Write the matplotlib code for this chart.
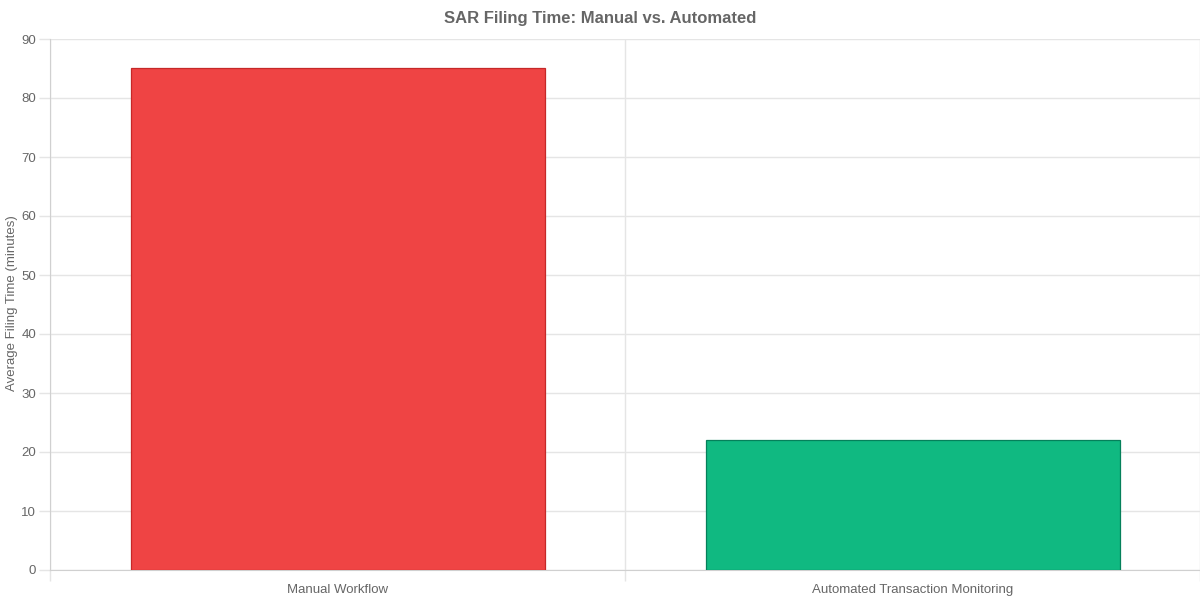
import matplotlib.pyplot as plt
from matplotlib.ticker import MultipleLocator, FixedLocator

categories = ['Manual Workflow', 'Automated Transaction Monitoring']
filing_minutes = [85, 22]
fill_colors = ['#EF4444', '#10B981']
edge_colors = ['#C62828', '#05805A']

plt.rcParams['font.family'] = ['Liberation Sans', 'DejaVu Sans']

fig = plt.figure(figsize=(12, 6), dpi=100)
ax = fig.add_axes([50 / 1200, 30 / 600, 1150 / 1200, 531 / 600])

x = list(range(len(categories)))
ax.bar(x, filing_minutes, width=0.72, color=fill_colors, edgecolor=edge_colors,
       linewidth=0.9, zorder=3)

ax.set_xlim(-0.5, len(categories) - 0.5)
ax.set_ylim(0, 90)
ax.yaxis.set_major_locator(MultipleLocator(10))
ax.set_xticks(x)
ax.set_xticklabels(categories)
ax.xaxis.set_minor_locator(FixedLocator([-0.5, 0.5, 1.5]))

grid_col = '#e5e5e5'
ax.grid(axis='y', color=grid_col, linewidth=1, zorder=0)
ax.grid(axis='x', which='minor', color=grid_col, linewidth=1, zorder=0)
ax.tick_params(axis='x', which='major', length=0, pad=10, labelsize=9.5, labelcolor='#666666')
ax.tick_params(axis='x', which='minor', length=8, color=grid_col, width=1)
ax.tick_params(axis='y', length=8, color=grid_col, width=1, pad=2, labelsize=9.5, labelcolor='#666666')

for side in ['top', 'right']:
    ax.spines[side].set_visible(False)
ax.spines['left'].set_color('#d0d0d0')
ax.spines['bottom'].set_color('#d0d0d0')

fig.text(12 / 1200, 1 - 303 / 600, 'Average Filing Time (minutes)', rotation=90,
         fontsize=9.5, color='#666666', ha='center', va='center')
fig.suptitle('SAR Filing Time: Manual vs. Automated', fontsize=12, fontweight='bold',
             color='#666666', x=0.5, y=1 - 18 / 600, va='center')

fig.savefig('out.png', dpi=100)
